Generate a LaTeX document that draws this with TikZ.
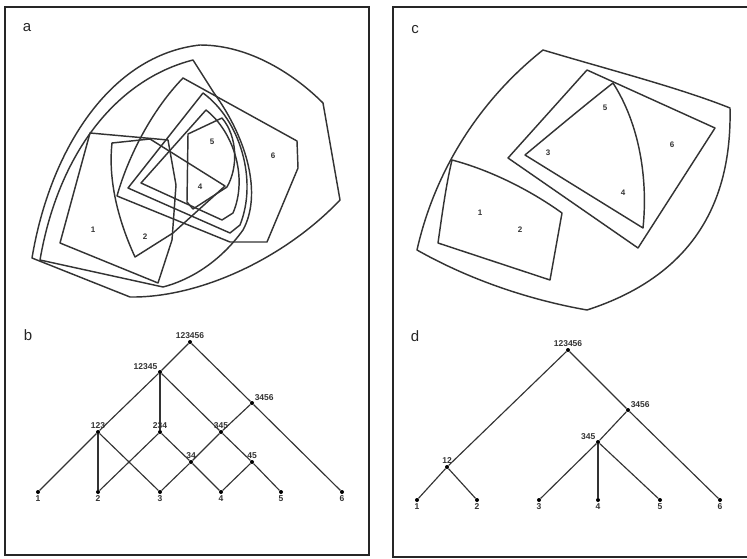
\documentclass[tikz,border=0pt]{standalone}
\usepackage{fontspec}
\setmainfont{Liberation Sans}
\begin{document}
\begin{tikzpicture}[x=1pt,y=-1pt,
  frame/.style={line width=2pt, draw=black!85},
  setline/.style={line width=1.45pt, line join=round, draw=black!80},
  tree/.style={line width=1.15pt, draw=black!80},
  dot/.style={circle, fill=black, inner sep=0pt, minimum size=4pt},
  lbl/.style={font=\bfseries\fontsize{8.5}{9}\selectfont, inner sep=1pt, text=black!80},
  ptlbl/.style={font=\bfseries\fontsize{8}{8}\selectfont, inner sep=0pt, text=black!80},
  panel/.style={font=\fontsize{15}{15}\selectfont, inner sep=0pt, text=black!85}]
\useasboundingbox (0,0) rectangle (747,559);
% frames
\draw[frame] (5,7) rectangle (369,555);
\draw[frame] (747,7) -- (393,7) -- (393,557) -- (747,557);
% panel letters
\node[panel] (la) at (27,28) {a};
\node[panel] (lb) at (28,335) {b};
\node[panel] (lc) at (415,30) {c};
\node[panel] (ld) at (415,336) {d};

% ---------- panel a : overlapping clusters ----------
\draw[setline] (32,258) .. controls (50,150) and (110,55) .. (200,45)
  .. controls (250,45) and (295,75) .. (323,103) -- (340,200)
  .. controls (285,258) and (200,298) .. (130,297) -- cycle;
\draw[setline] (40,260) .. controls (58,155) and (115,80) .. (193,60) -- (214,93)
  .. controls (248,140) and (262,195) .. (243,230)
  .. controls (220,262) and (190,280) .. (163,287) -- cycle;
\draw[setline] (183,78) -- (297,141) -- (298,168) -- (267,242) -- (230,242) -- (117,196)
  .. controls (127,160) and (150,112) .. cycle;
\draw[setline] (60,243) -- (90,133) -- (168,140) -- (176,185) -- (172,240) -- (158,283) -- cycle;
\draw[setline] (112,143) -- (150,139) -- (225,186) -- (173,233) -- (135,257)
  .. controls (118,220) and (108,180) .. cycle;
\draw[setline] (128,188) -- (203,93) .. controls (240,120) and (258,180) .. (240,225) -- (230,233) -- cycle;
\draw[setline] (141,183) -- (206,110) .. controls (234,132) and (248,178) .. (233,213) -- (222,220) -- cycle;
\draw[setline] (187,202) -- (188,134) -- (222,118) .. controls (238,137) and (238,168) .. (227,187) -- (193,209) -- cycle;
\node[ptlbl] (pa1) at (93,230) {1};
\node[ptlbl] (pa2) at (145,237) {2};
\node[ptlbl] (pa5) at (212,142) {5};
\node[ptlbl] (pa4) at (200,187) {4};
\node[ptlbl] (pa6) at (273,156) {6};

% ---------- panel c : hierarchy ----------
\draw[setline] (417,250) .. controls (435,170) and (480,100) .. (543,50)
  .. controls (610,70) and (680,88) .. (730,108)
  .. controls (732,200) and (695,275) .. (587,310)
  .. controls (530,300) and (470,280) .. cycle;
\draw[setline] (452,160) .. controls (490,170) and (530,190) .. (562,213) -- (550,280) -- (438,243)
  .. controls (442,215) and (446,185) .. cycle;
\draw[setline] (587,70) -- (715,128) -- (638,248) -- (508,158) -- cycle;
\draw[setline] (613,83) .. controls (640,125) and (648,180) .. (643,228) -- (525,155)
  .. controls (555,130) and (585,105) .. cycle;
\node[ptlbl] (pc1) at (480,213) {1};
\node[ptlbl] (pc2) at (520,230) {2};
\node[ptlbl] (pc3) at (548,153) {3};
\node[ptlbl] (pc5) at (605,108) {5};
\node[ptlbl] (pc4) at (623,193) {4};
\node[ptlbl] (pc6) at (672,145) {6};

% ---------- panel b : pyramid ----------
\node[dot,label={[lbl]above:123456}] (b0) at (190,342) {};
\node[dot,label={[lbl]above left:12345}] (b1) at (160,372) {};
\node[dot,label={[lbl]above right:3456}] (b2) at (252,403) {};
\node[dot,label={[lbl]above:123}] (b3) at (98,432) {};
\node[dot,label={[lbl]above:234}] (b4) at (160,432) {};
\node[dot,label={[lbl]above:345}] (b5) at (221,432) {};
\node[dot,label={[lbl]above:34}] (b6) at (191,462) {};
\node[dot,label={[lbl]above:45}] (b7) at (252,462) {};
\node[dot,label={[lbl]below:1}] (bl1) at (38,492) {};
\node[dot,label={[lbl]below:2}] (bl2) at (98,492) {};
\node[dot,label={[lbl]below:3}] (bl3) at (160,492) {};
\node[dot,label={[lbl]below:4}] (bl4) at (221,492) {};
\node[dot,label={[lbl]below:5}] (bl5) at (281,492) {};
\node[dot,label={[lbl]below:6}] (bl6) at (342,492) {};
\draw[tree] (b0) -- (b1);
\draw[tree] (b0) -- (b2);
\draw[tree] (b1) -- (b3);
\draw[tree] (b1) -- (b4);
\draw[tree] (b1) -- (b5);
\draw[tree] (b2) -- (b5);
\draw[tree] (b2) -- (bl6);
\draw[tree] (b3) -- (bl1);
\draw[tree] (b3) -- (bl2);
\draw[tree] (b3) -- (bl3);
\draw[tree] (b4) -- (bl2);
\draw[tree] (b4) -- (b6);
\draw[tree] (b5) -- (b6);
\draw[tree] (b5) -- (b7);
\draw[tree] (b6) -- (bl3);
\draw[tree] (b6) -- (bl4);
\draw[tree] (b7) -- (bl4);
\draw[tree] (b7) -- (bl5);

% ---------- panel d : tree ----------
\node[dot,label={[lbl]above:123456}] (d0) at (568,350) {};
\node[dot,label={[lbl]above right:3456}] (d1) at (628,410) {};
\node[dot,label={[lbl]above left:345}] (d2) at (598,442) {};
\node[dot,label={[lbl]above:12}] (d3) at (447,467) {};
\node[dot,label={[lbl]below:1}] (dl1) at (417,500) {};
\node[dot,label={[lbl]below:2}] (dl2) at (477,500) {};
\node[dot,label={[lbl]below:3}] (dl3) at (539,500) {};
\node[dot,label={[lbl]below:4}] (dl4) at (598,500) {};
\node[dot,label={[lbl]below:5}] (dl5) at (660,500) {};
\node[dot,label={[lbl]below:6}] (dl6) at (720,500) {};
\draw[tree] (d0) -- (d3);
\draw[tree] (d0) -- (d1);
\draw[tree] (d1) -- (d2);
\draw[tree] (d1) -- (dl6);
\draw[tree] (d2) -- (dl3);
\draw[tree] (d2) -- (dl4);
\draw[tree] (d2) -- (dl5);
\draw[tree] (d3) -- (dl1);
\draw[tree] (d3) -- (dl2);
\end{tikzpicture}
\end{document}
